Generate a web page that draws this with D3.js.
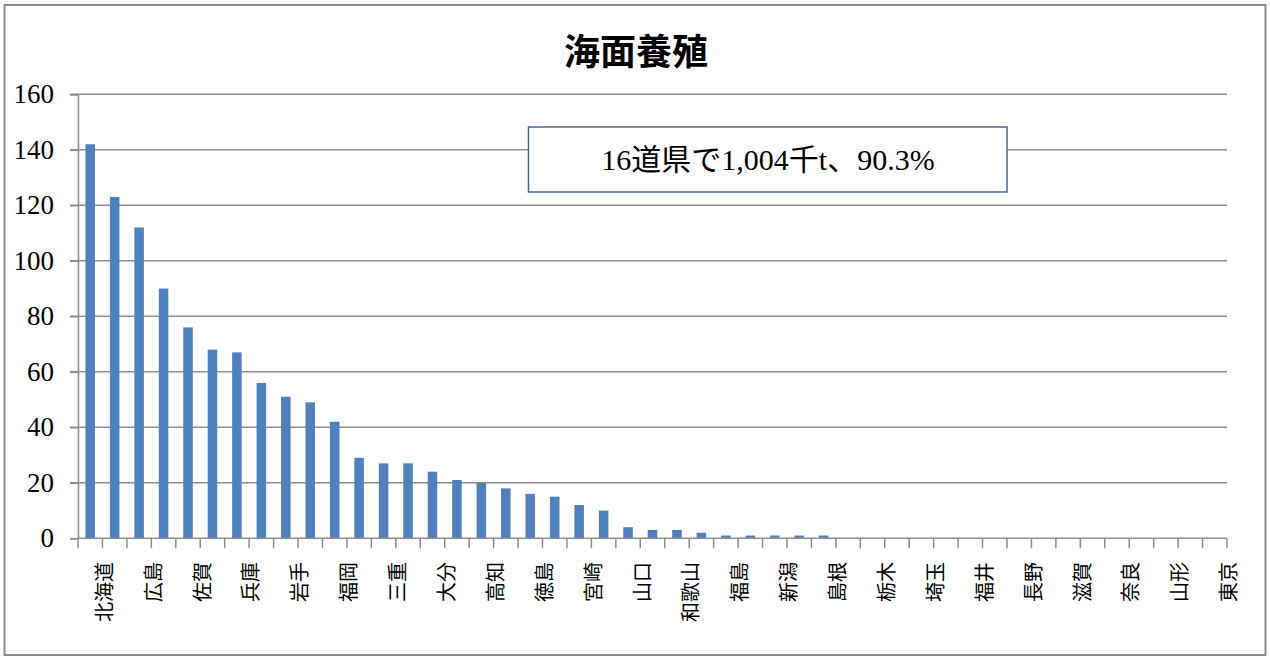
<!DOCTYPE html>
<html><head><meta charset="utf-8">
<script src="https://cdn.jsdelivr.net/npm/d3@7"></script>
<style>
html,body{margin:0;padding:0;background:#fff;}
svg{display:block;}
</style></head>
<body>
<svg id="chart" width="1270" height="659"></svg>
<script>
const title = "海面養殖";
const note = "16道県で1,004千t、90.3%";
const categories = ["北海道","宮城","広島","愛媛","佐賀","熊本","兵庫","長崎","岩手","鹿児島",
  "福岡","香川","三重","岡山","大分","青森","高知","静岡","徳島","愛知",
  "宮崎","石川","山口","京都","和歌山","千葉","福島","鳥取","新潟","富山",
  "島根","沖縄","栃木","群馬","埼玉","茨城","福井","神奈川","長野","岐阜",
  "滋賀","秋田","奈良","山梨","山形","大阪","東京"];
const values = [142,123,112,90,76,68,67,56,51,49,
  42,29,27,27,24,21,20,18,16,15,
  12,10,4,3,3,2,1,1,1,1,
  1,0,0,0,0,0,0,0,0,0,
  0,0,0,0,0,0,0];
const yTicks = [0,20,40,60,80,100,120,140,160];

const svg = d3.select("#chart");
const plot = {left: 78, right: 1227, top: 94.3, bottom: 538.3};

// outer border
svg.append("rect").attr("x",4.5).attr("y",5).attr("width",1261).attr("height",650)
  .attr("fill","#fff").attr("stroke","#8c8c8c").attr("stroke-width",2);

const x = d3.scaleBand().domain(categories).range([plot.left, plot.right]).paddingInner(0).paddingOuter(0);
const y = d3.scaleLinear().domain([0,160]).range([plot.bottom, plot.top]);

// gridlines
svg.append("g").selectAll("line").data(yTicks.filter(d=>d>0)).join("line")
  .attr("x1", plot.left-8).attr("x2", plot.right)
  .attr("y1", d=>y(d)).attr("y2", d=>y(d))
  .attr("stroke","#8c8c8c").attr("stroke-width",1.5);

// y axis
const yAxis = d3.axisLeft(y).tickValues(yTicks).tickSize(8).tickPadding(16);
const gy = svg.append("g").attr("transform",`translate(${plot.left},0)`).call(yAxis);
gy.select(".domain").attr("stroke","#8c8c8c").attr("stroke-width",1.5);
gy.selectAll(".tick line").attr("stroke","#8c8c8c").attr("stroke-width",1.5);
gy.selectAll(".tick text").attr("font-family","'Liberation Serif','DejaVu Serif',serif")
  .attr("font-size",27).attr("fill","#000");

// bars
const bw = x.bandwidth()*0.39;
svg.append("g").selectAll("rect").data(categories).join("rect")
  .attr("x", (d)=>x(d)+x.bandwidth()/2-bw/2)
  .attr("width", bw)
  .attr("y", (d,i)=>y(values[i]))
  .attr("height", (d,i)=>y(0)-y(values[i]))
  .attr("fill","#4F81BD");

// x axis line and ticks at boundaries
svg.append("line").attr("x1",plot.left).attr("x2",plot.right)
  .attr("y1",plot.bottom).attr("y2",plot.bottom)
  .attr("stroke","#8c8c8c").attr("stroke-width",1.5);
const bounds = categories.map(d=>x(d)).concat([plot.right]);
svg.append("g").selectAll("line").data(bounds).join("line")
  .attr("x1",d=>d).attr("x2",d=>d).attr("y1",plot.bottom).attr("y2",plot.bottom+10)
  .attr("stroke","#8c8c8c").attr("stroke-width",1.5);

// x labels (every other), rotated -90
svg.append("g").selectAll("text").data(categories.filter((d,i)=>i%2===0)).join("text")
  .attr("transform", d=>`translate(${x(d)+x.bandwidth()/2+13},562) rotate(-90)`)
  .attr("text-anchor","end")
  .attr("dominant-baseline","central")
  .attr("font-family","'Noto Sans CJK JP',sans-serif")
  .attr("font-size",20)
  .attr("fill","#000")
  .text(d=>d);

// title
svg.append("text").attr("x",636).attr("y",49).attr("text-anchor","middle")
  .attr("dominant-baseline","central")
  .attr("font-family","'Noto Sans CJK JP',sans-serif").attr("font-weight","bold")
  .attr("font-size",36).attr("fill","#000").text(title);

// annotation box
svg.append("rect").attr("x",528.5).attr("y",127).attr("width",478.5).attr("height",65)
  .attr("fill","#fff").attr("stroke","#46648c").attr("stroke-width",1.5);
svg.append("text").attr("x",768).attr("y",159.5).attr("text-anchor","middle")
  .attr("dominant-baseline","central")
  .attr("font-family","'Liberation Serif','Noto Sans CJK JP',serif")
  .attr("font-size",30).attr("fill","#000").text(note);
</script>
</body></html>
